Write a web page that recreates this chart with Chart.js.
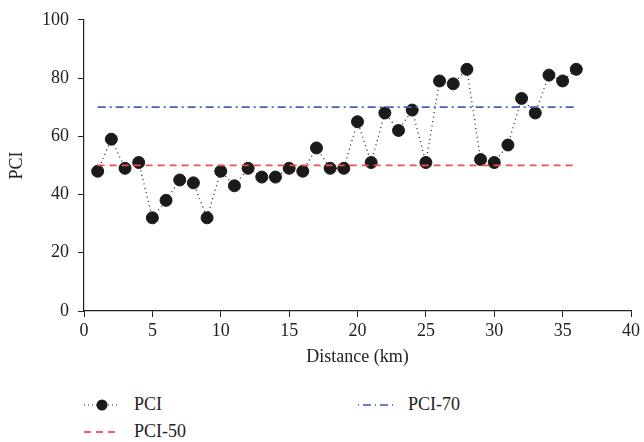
<!DOCTYPE html>
<html>
<head>
<meta charset="utf-8">
<script src="https://cdn.jsdelivr.net/npm/chart.js@4.4.1/dist/chart.umd.min.js"></script>
<style>
    body { margin: 0; background: #fff; font-family: "Liberation Serif", "DejaVu Serif", serif; }
    #wrap { position: relative; width: 644px; height: 442px; }
    #chart { position: absolute; left: 0; top: 0; }
    .leg { position: absolute; font-size: 18px; color: #222; display: flex; align-items: center; }
    .leg svg { margin-right: 12px; }
</style>
</head>
<body>
<div id="wrap">
    <canvas id="chart" width="644" height="372"></canvas>
    <div class="leg" style="left:82px; top:394px;">
        <svg width="40" height="14"><line x1="2" y1="7" x2="38" y2="7" stroke="#222" stroke-width="1.2" stroke-dasharray="1,3"/><circle cx="20" cy="7" r="5.5" fill="#1a1a1a"/></svg>PCI
    </div>
    <div class="leg" style="left:82px; top:421px;">
        <svg width="40" height="14"><line x1="2" y1="7" x2="38" y2="7" stroke="#ee2c2c" stroke-width="1.4" stroke-dasharray="7,5"/></svg>PCI-50
    </div>
    <div class="leg" style="left:356px; top:394px;">
        <svg width="40" height="14"><line x1="2" y1="7" x2="38" y2="7" stroke="#3d55b3" stroke-width="1.4" stroke-dasharray="1,4,8,4"/></svg>PCI-70
    </div>
</div>
<script>
// ----------- dữ liệu -----------
const distance = [1, 2, 3, 4, 5, 6, 7, 8, 9, 10, 11, 12, 13, 14, 15, 16, 17, 18,
                  19, 20, 21, 22, 23, 24, 25, 26, 27, 28, 29, 30, 31, 32, 33, 34, 35, 36];
const pci = [48, 59, 49, 51, 32, 38, 45, 44, 32, 48, 43, 49, 46, 46, 49, 48, 56, 49,
             49, 65, 51, 68, 62, 69, 51, 79, 78, 83, 52, 51, 57, 73, 68, 81, 79, 83];
const pci50 = [50, 50];
const pci70 = [70, 70];
const refX = [1, 36];
const xTicks = [0, 5, 10, 15, 20, 25, 30, 35, 40];
const yTicks = [0, 20, 40, 60, 80, 100];

const toPoints = (xs, ys) => xs.map((x, i) => ({ x: x, y: ys[i] }));

const font = { family: '"Liberation Serif", "DejaVu Serif", serif', size: 18 };

const ctx = document.getElementById('chart').getContext('2d');
new Chart(ctx, {
    type: 'scatter',
    data: {
        datasets: [
            {
                label: 'PCI-50', data: toPoints(refX, pci50), showLine: true,
                borderColor: '#f05050', borderWidth: 1.6, borderDash: [7, 5],
                pointRadius: 0
            },
            {
                label: 'PCI-70', data: toPoints(refX, pci70), showLine: true,
                borderColor: '#4660b8', borderWidth: 1.6, borderDash: [8, 4, 2, 4],
                pointRadius: 0
            },
            {
                label: 'PCI', data: toPoints(distance, pci), showLine: true,
                borderColor: '#222', borderWidth: 1.3, borderDash: [1, 3.5],
                pointRadius: 6, pointBackgroundColor: '#1a1a1a', pointBorderColor: '#1a1a1a',
                pointBorderWidth: 1
            }
        ]
    },
    options: {
        responsive: false,
        animation: false,
        layout: { padding: { top: 19, right: 13, left: 2, bottom: 0 } },
        plugins: { legend: { display: false }, tooltip: { enabled: false } },
        scales: {
            x: {
                type: 'linear', min: 0, max: 40,
                afterBuildTicks: s => { s.ticks = xTicks.map(v => ({ value: v })); },
                afterFit: s => { s.height = 61; },
                grid: { drawOnChartArea: false, drawTicks: true, tickLength: 6, color: '#222' },
                border: { color: '#222', width: 1.2 },
                ticks: { color: '#222', font: font, padding: 3, maxRotation: 0 },
                title: { display: true, text: 'Distance (km)', color: '#222', font: font, padding: { top: 3 } }
            },
            y: {
                min: 0, max: 100,
                afterBuildTicks: s => { s.ticks = yTicks.map(v => ({ value: v })); },
                afterFit: s => { s.width = 82; },
                grid: { drawOnChartArea: false, drawTicks: true, tickLength: 6, color: '#222' },
                border: { color: '#222', width: 1.2 },
                ticks: { color: '#222', font: font, padding: 9 },
                title: { display: true, text: 'PCI', color: '#222', font: font, padding: { bottom: 10 } }
            }
        }
    }
});
</script>
</body>
</html>
